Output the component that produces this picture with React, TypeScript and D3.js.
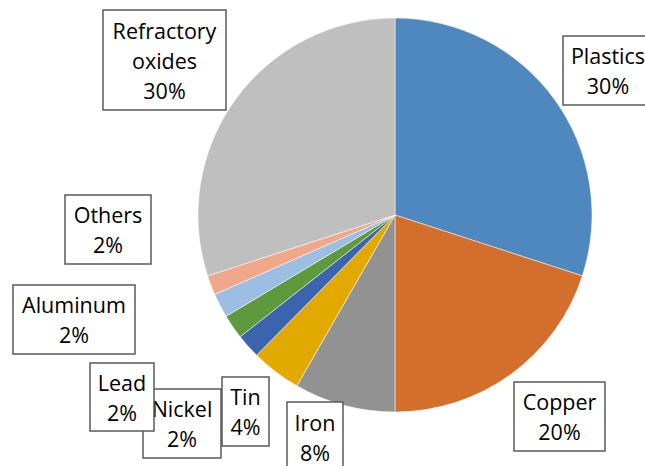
import React from "react";
import * as d3 from "d3";

const categories = ["Plastics", "Copper", "Iron", "Tin", "Nickel", "Lead", "Aluminum", "Others", "Refractory oxides"];
const values = [30, 20, 8.3, 4.1, 2, 2, 2, 1.6, 30];
const percentLabels = ["30%", "20%", "8%", "4%", "2%", "2%", "2%", "2%", "30%"];
const labelLines = [["Plastics"], ["Copper"], ["Iron"], ["Tin"], ["Nickel"], ["Lead"], ["Aluminum"], ["Others"], ["Refractory", "oxides"]];
const colors = ["#4F88BF", "#D46E2C", "#929292", "#E2AA00", "#3C63AD", "#5E9A3D", "#9DBEE3", "#F1A88A", "#BFBFBF"];
// label boxes: x, y, w, h
const boxes: [number, number, number, number][] = [
  [563, 36, 90, 69],
  [514, 382, 91, 69],
  [287, 402, 56, 70],
  [222, 377, 47, 69],
  [143, 389, 78, 69],
  [90, 363, 64, 68],
  [13, 285, 122, 69],
  [65, 195, 86, 69],
  [103, 10, 123, 100],
];
const drawOrder = [0, 1, 2, 3, 4, 5, 6, 7, 8];

export default function App() {
  const W = 645, H = 466;
  const cx = 395, cy = 215, r = 197;
  const pie = d3.pie<number>().sort(null).value((d) => d);
  const arcs = pie(values);
  const arc = d3.arc<d3.PieArcDatum<number>>().innerRadius(0).outerRadius(r);
  return (
    <svg width={W} height={H} style={{ position: "absolute", left: 0, top: 0, background: "#fff" }}>
      <g transform={`translate(${cx},${cy})`}>
        {arcs.map((a, i) => (
          <path key={i} d={arc(a) || ""} fill={colors[i]} stroke="#fff" strokeWidth={0.5} />
        ))}
      </g>
      {drawOrder.map((i) => {
        const [x, y, w, h] = boxes[i];
        const lines = [...labelLines[i], percentLabels[i]];
        const fs = 21.5;
        const lh = 30;
        const startY = y + h / 2 - ((lines.length - 1) * lh) / 2;
        return (
          <g key={categories[i]}>
            <rect x={x} y={y} width={w} height={h} fill="#fff" stroke="#595959" strokeWidth={1.5} />
            {lines.map((t, j) => (
              <text
                key={j}
                x={x + w / 2}
                y={startY + j * lh}
                textAnchor="middle"
                dominantBaseline="central"
                fontFamily="'Open Sans', sans-serif"
                fontSize={fs}
                fill="#000"
              >
                {t}
              </text>
            ))}
          </g>
        );
      })}
    </svg>
  );
}
